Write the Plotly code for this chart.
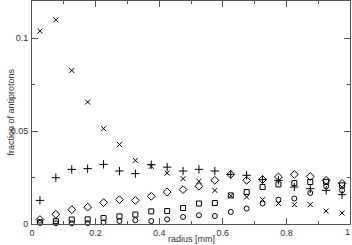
import plotly.graph_objects as go

radius = [0.025, 0.075, 0.125, 0.175, 0.225, 0.275, 0.325, 0.375, 0.425, 0.475,
          0.525, 0.575, 0.625, 0.675, 0.725, 0.775, 0.825, 0.875, 0.925, 0.975]

cross_vals = [0.1038, 0.1099, 0.0826, 0.0656, 0.0513, 0.0428, 0.0342, 0.0310, 0.0274, 0.0244,
              0.0230, 0.0181, 0.0152, 0.0145, 0.0131, 0.0110, 0.0104, 0.0104, 0.0070, 0.0059]
plus_vals = [0.0127, 0.0249, 0.0294, 0.0298, 0.0321, 0.0285, 0.0271, 0.0319, 0.0306, 0.0285,
             0.0294, 0.0285, 0.0267, 0.0262, 0.0239, 0.0235, 0.0199, 0.0190, 0.0181, 0.0158]
diamond_vals = [0.0024, 0.0052, 0.0077, 0.0091, 0.0115, 0.0131, 0.0127, 0.0149, 0.0172, 0.0185,
                0.0203, 0.0235, 0.0267, 0.0235, 0.0239, 0.0253, 0.0267, 0.0256, 0.0235, 0.0219]
square_vals = [0.0010, 0.0015, 0.0024, 0.0025, 0.0032, 0.0041, 0.0051, 0.0068, 0.0070, 0.0086,
               0.0110, 0.0113, 0.0154, 0.0172, 0.0199, 0.0213, 0.0220, 0.0226, 0.0227, 0.0208]
circle_vals = [0.0006, 0.0004, 0.0004, 0.0005, 0.0009, 0.0016, 0.0020, 0.0016, 0.0025, 0.0038,
               0.0047, 0.0043, 0.0065, 0.0083, 0.0110, 0.0131, 0.0137, 0.0167, 0.0203, 0.0181]

x_ticks = [0, 0.2, 0.4, 0.6, 0.8, 1]
x_tick_labels = ["0", "0.2", "0.4", "0.6", "0.8", "1"]
y_ticks = [0, 0.05, 0.1]
y_tick_labels = ["0", "0.05", "0.1"]

series = [
    (cross_vals, "x-thin-open", 5),
    (plus_vals, "cross-thin-open", 6),
    (diamond_vals, "diamond-open", 6),
    (square_vals, "square-open", 5),
    (circle_vals, "circle-open", 5),
]

FONT = "Liberation Sans, Arial, sans-serif"

fig = go.Figure()
for vals, sym, size in series:
    fig.add_trace(go.Scatter(
        x=radius, y=vals, mode="markers",
        marker=dict(symbol=sym, size=size, color="black",
                    line=dict(color="black", width=1)),
        showlegend=False, cliponaxis=False,
    ))

axis_common = dict(
    showgrid=False, zeroline=False, showline=True, linecolor="#555555", linewidth=1,
    mirror="ticks", ticks="inside", ticklen=6, tickcolor="#555555", tickwidth=1,
    tickfont=dict(family=FONT, size=9, color="#333333"), automargin=False,
    ticklabeloverflow="allow",
)

# last x tick label sits on the right edge; draw it explicitly so it is not dropped
shown_x_labels = x_tick_labels[:-1] + [""]

fig.update_layout(
    width=352, height=245,
    margin=dict(l=32, r=2, t=1, b=21),
    paper_bgcolor="white", plot_bgcolor="white",
    xaxis=dict(range=[0, 1], tickvals=x_ticks, ticktext=shown_x_labels,
               minor=dict(dtick=0.1, ticks="inside", ticklen=3, tickcolor="#555555"),
               ticklabelstandoff=0, **axis_common),
    yaxis=dict(range=[0, 0.12], tickvals=y_ticks, ticktext=y_tick_labels,
               minor=dict(dtick=0.025, ticks="inside", ticklen=3, tickcolor="#555555"),
               ticklabelstandoff=1, **axis_common),
    annotations=[
        dict(text="radius [mm]", xref="paper", yref="paper", x=0.5, y=-0.069,
             xanchor="center", yanchor="middle", showarrow=False,
             font=dict(family=FONT, size=9, color="#333333")),
        dict(text="fraction of antiprotons", xref="paper", yref="paper", x=-0.069, y=0.5,
             xanchor="center", yanchor="middle", textangle=-90, showarrow=False,
             font=dict(family=FONT, size=9, color="#333333")),
        dict(text=x_tick_labels[-1], xref="paper", yref="paper", x=1, y=-0.005,
             xanchor="right", yanchor="top", showarrow=False, xshift=2,
             font=dict(family=FONT, size=9, color="#333333")),
    ],
)

fig.write_html("out.html",
               config={"displayModeBar": False},
               post_script="document.body.style.margin='0';document.body.style.padding='0';document.body.style.overflow='hidden';")
